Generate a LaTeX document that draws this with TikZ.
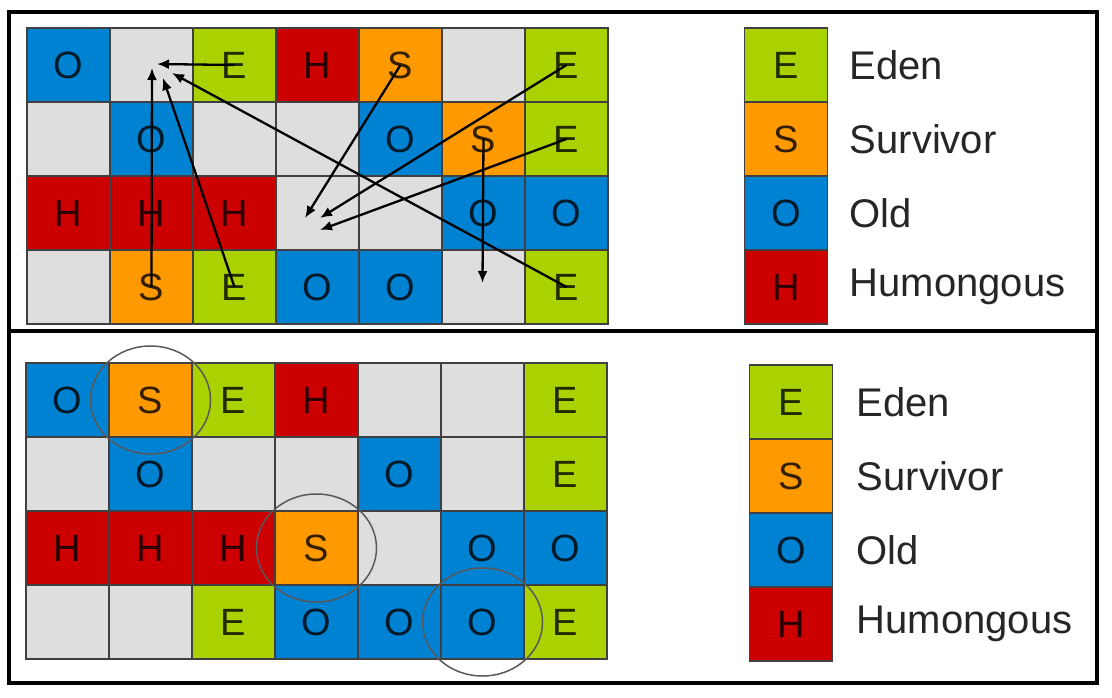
\documentclass[tikz,border=0pt]{standalone}
\usepackage{fontspec}
\setmainfont{Liberation Sans}
\usetikzlibrary{arrows.meta,calc,positioning}
\definecolor{edenc}{RGB}{170,210,0}
\definecolor{survc}{RGB}{255,153,0}
\definecolor{oldc}{RGB}{0,130,210}
\definecolor{humc}{RGB}{204,0,0}
\definecolor{freec}{RGB}{222,222,222}
\tikzset{%
  >={Latex[width=10pt,length=12pt]},
  % Specifications for style of regions:
       cell/.style = {rectangle, draw=black!75, line width=1.5pt,
                      minimum width=83pt, minimum height=74pt, inner sep=0pt,
                      font=\fontsize{38}{38}\selectfont, text=black, text opacity=0.8},
         cE/.style = {cell, fill=edenc, node contents=E},
         cS/.style = {cell, fill=survc, node contents=S},
         cO/.style = {cell, fill=oldc,  node contents=O},
         cH/.style = {cell, fill=humc,  node contents=H},
         cX/.style = {cell, fill=freec, node contents={}},
    keytext/.style = {font=\fontsize{40}{40}\selectfont, text=black!85},
       move/.style = {->, line width=2.3pt},
       ring/.style = {draw=black!65, line width=1.5pt}
                     }

\begin{document}
\begin{tikzpicture}[x=1pt, y=-1pt, node distance=74pt]
  \useasboundingbox (0,0) rectangle (1112,697);

  % heap before
  \foreach \row [count=\r] in {{O,X,E,H,S,X,E},{X,O,X,X,O,S,E},{H,H,H,X,X,O,O},{X,S,E,O,O,X,E}}
    \foreach \k [count=\c] in \row
      \node (t\r\c) at ({27+(\c-0.5)*83}, {28+(\r-0.5)*74}) [c\k];

  % heap after
  \foreach \row [count=\r] in {{O,S,E,H,X,X,E},{X,O,X,X,O,X,E},{H,H,H,S,X,O,O},{X,X,E,O,O,O,E}}
    \foreach \k [count=\c] in \row
      \node (b\r\c) at ({26+(\c-0.5)*83}, {363+(\r-0.5)*74}) [c\k];

  % legends
  \node (keyE) at (786,65) [cE];
  \node (keyS) [below of=keyE, cS];
  \node (keyO) [below of=keyS, cO];
  \node (keyH) [below of=keyO, cH];
  \node (lblE) [keytext, right=18pt of keyE] {Eden};
  \node (lblS) [keytext, right=18pt of keyS] {Survivor};
  \node (lblO) [keytext, right=18pt of keyO] {Old};
  \node (lblH) [keytext, right=18pt of keyH] {Humongous};

  \node (keyE2) at (791,402) [cE];
  \node (keyS2) [below of=keyE2, cS];
  \node (keyO2) [below of=keyS2, cO];
  \node (keyH2) [below of=keyO2, cH];
  \node (lblE2) [keytext, right=20pt of keyE2] {Eden};
  \node (lblS2) [keytext, right=20pt of keyS2] {Survivor};
  \node (lblO2) [keytext, right=20pt of keyO2] {Old};
  \node (lblH2) [keytext, right=20pt of keyH2] {Humongous};

  % copy targets
  \coordinate (hubA) at ($(t12.center)+(5.5,-1)$);
  \coordinate (hubB) at ($(t12.center)+(0.5,3)$);
  \coordinate (hubC) at ($(t12.center)+(11.5,13)$);
  \coordinate (hubD) at ($(t12.center)+(20.5,8)$);
  \coordinate (hubE) at ($(t34.center)+(-12.5,5)$);
  \coordinate (hubF) at ($(t34.center)+(2.5,5)$);
  \coordinate (hubG) at ($(t34.center)+(2.5,17)$);
  \coordinate (hubH) at ($(t46.center)+(-1,-4)$);

  \draw[move] (t13.center) -- (hubA);
  \draw[move] (t42.center) -- (hubB);
  \draw[move] (t43.center) -- (hubC);
  \draw[move] (t47.center) -- (hubD);
  \draw[move] (t15.center) -- (hubE);
  \draw[move] (t17.center) -- (hubF);
  \draw[move] (t27.center) -- (hubG);
  \draw[move] (t26.center) -- (hubH);

  \draw[ring] (b12.center) ellipse [x radius=60, y radius=54];
  \draw[ring] (b34.center) ellipse [x radius=60, y radius=54];
  \draw[ring] (b46.center) ellipse [x radius=60, y radius=54];

  \draw[line width=4pt] (9,12) rectangle (1097,683);
  \draw[line width=4pt] (9,330.5) -- (1097,330.5);
\end{tikzpicture}
\end{document}
